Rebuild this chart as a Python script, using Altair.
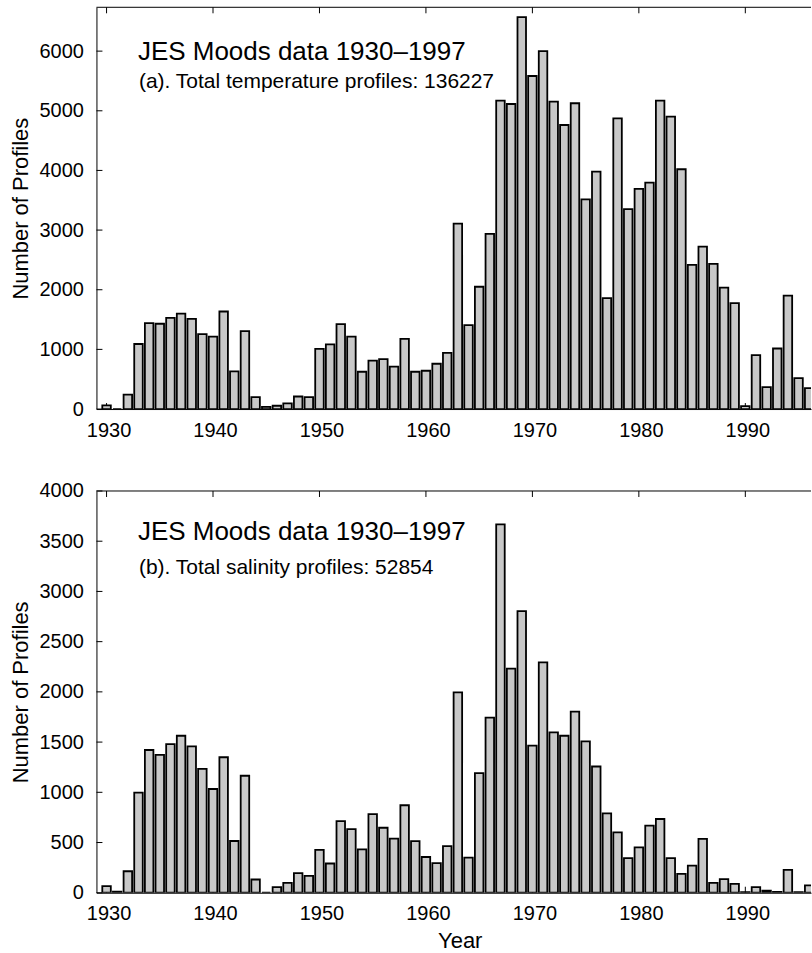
import altair as alt
import pandas as pd

# ---------------- data ----------------
years = list(range(1930, 1997))
temperature = [60, 0, 240, 1090, 1440, 1430, 1530, 1600, 1510, 1255,
               1215, 1635, 630, 1305, 200, 35, 55, 95, 210, 200,
               1010, 1085, 1425, 1215, 625, 812, 837, 712, 1175, 625,
               642, 759, 943, 3110, 1408, 2050, 2937, 5170, 5114, 6570,
               5583, 6000, 5152, 4762, 5126, 3516, 3980, 1859, 4874, 3350,
               3690, 3796, 5170, 4901, 4020, 2417, 2724, 2434, 2037, 1776,
               50, 905, 368, 1015, 1903, 519, 352]
salinity = [66, 10, 214, 997, 1421, 1372, 1480, 1563, 1457, 1234,
            1033, 1349, 515, 1165, 132, 0, 56, 99, 195, 168,
            426, 291, 713, 634, 432, 782, 647, 538, 871, 513,
            356, 295, 465, 1995, 350, 1191, 1744, 3668, 2231, 2803,
            1464, 2293, 1596, 1563, 1803, 1507, 1257, 790, 602, 345,
            451, 668, 734, 345, 188, 270, 536, 99, 135, 89,
            5, 56, 20, 8, 228, 5, 73]
x_ticks = [1930, 1940, 1950, 1960, 1970, 1980, 1990]
y_ticks_a = [0, 1000, 2000, 3000, 4000, 5000, 6000]
y_ticks_b = [0, 500, 1000, 1500, 2000, 2500, 3000, 3500, 4000]
main_title = "JES Moods data 1930\u20131997"
sub_a = "(a).  Total temperature profiles: 136227"
sub_b = "(b).  Total salinity profiles: 52854"
y_title = "Number of Profiles"
x_title = "Year"

# ---------------- styling / layout ----------------
W = 715
H = 402
FONT = "Liberation Sans"
BAR_FILL = "#c8c8c8"
TICK = 6

xscale = alt.Scale(domain=[1929.05, 1996.17], nice=False, zero=False)


def panel(values, yticks, ymax, subtitle, show_xtitle, title_y, sub_y):
    df = pd.DataFrame({"year": years, "count": values})
    yscale = alt.Scale(domain=[0, ymax], nice=False, zero=True)

    xaxis_kw = dict(values=x_ticks, format="d", labelOffset=2)
    if show_xtitle:
        xaxis_kw.update(title=x_title, titleX=363.5, titleAlign="center",
                        titlePadding=7)
    else:
        xaxis_kw.update(title="")
    xaxis = alt.Axis(**xaxis_kw)
    yaxis = alt.Axis(values=yticks, format="d", title=y_title, titlePadding=6)

    # inward tick marks (drawn under the bars, like the original)
    xt_df = pd.DataFrame({"x0": x_ticks})
    xt_bottom = alt.Chart(xt_df).mark_rule(color="black", strokeWidth=1).encode(
        x=alt.X("x0:Q", scale=xscale, axis=xaxis),
        y=alt.value(H), y2=alt.value(H - TICK))
    xt_top = alt.Chart(xt_df).mark_rule(color="black", strokeWidth=1).encode(
        x=alt.X("x0:Q", scale=xscale, axis=xaxis),
        y=alt.value(0), y2=alt.value(TICK))
    yt = alt.Chart(pd.DataFrame({"count": yticks})).mark_rule(color="black", strokeWidth=1).encode(
        y=alt.Y("count:Q", scale=yscale, axis=yaxis),
        x=alt.value(0), x2=alt.value(TICK))

    bars = alt.Chart(df).transform_calculate(
        x0="datum.year - 0.4", x1="datum.year + 0.4"
    ).mark_rect(fill=BAR_FILL, stroke="black", strokeWidth=1.8, clip=True).encode(
        x=alt.X("x0:Q", scale=xscale, axis=xaxis),
        x2="x1:Q",
        y=alt.Y("count:Q", scale=yscale, axis=yaxis),
        y2=alt.datum(0),
    )

    frame_top = alt.Chart(pd.DataFrame({"v": [0]})).mark_rule(color="black", strokeWidth=1).encode(
        x=alt.value(0), x2=alt.value(W), y=alt.value(0))

    t1 = alt.Chart(pd.DataFrame({"label": [main_title]})).mark_text(
        align="left", baseline="alphabetic", font=FONT, fontSize=26, color="black"
    ).encode(x=alt.value(41.5), y=alt.value(title_y), text="label:N")
    t2 = alt.Chart(pd.DataFrame({"label": [subtitle]})).mark_text(
        align="left", baseline="alphabetic", font=FONT, fontSize=21, color="black"
    ).encode(x=alt.value(42.5), y=alt.value(sub_y), text="label:N")

    return alt.layer(xt_bottom, xt_top, yt, bars, frame_top, t1, t2).properties(
        width=W, height=H)


top = panel(temperature, y_ticks_a, 6735, sub_a, False, 52.5, 80.5)
bottom = panel(salinity, y_ticks_b, 4000, sub_b, True, 49.5, 83)

chart = alt.vconcat(top, bottom, spacing=41).properties(
    padding={"left": 9.5, "top": 6, "right": 0, "bottom": 0},
    background="white",
).configure_view(stroke=None).configure_axis(
    labelFont=FONT, labelFontSize=20, labelColor="black",
    titleFont=FONT, titleFontSize=22, titleFontWeight="normal", titleColor="black",
    domainColor="black", domainWidth=1, ticks=False, tickSize=0,
    grid=False, labelFlush=False, labelPadding=11,
).configure_axisY(labelPadding=13)

chart.save("out.html", embed_options={"renderer": "svg", "actions": False})
